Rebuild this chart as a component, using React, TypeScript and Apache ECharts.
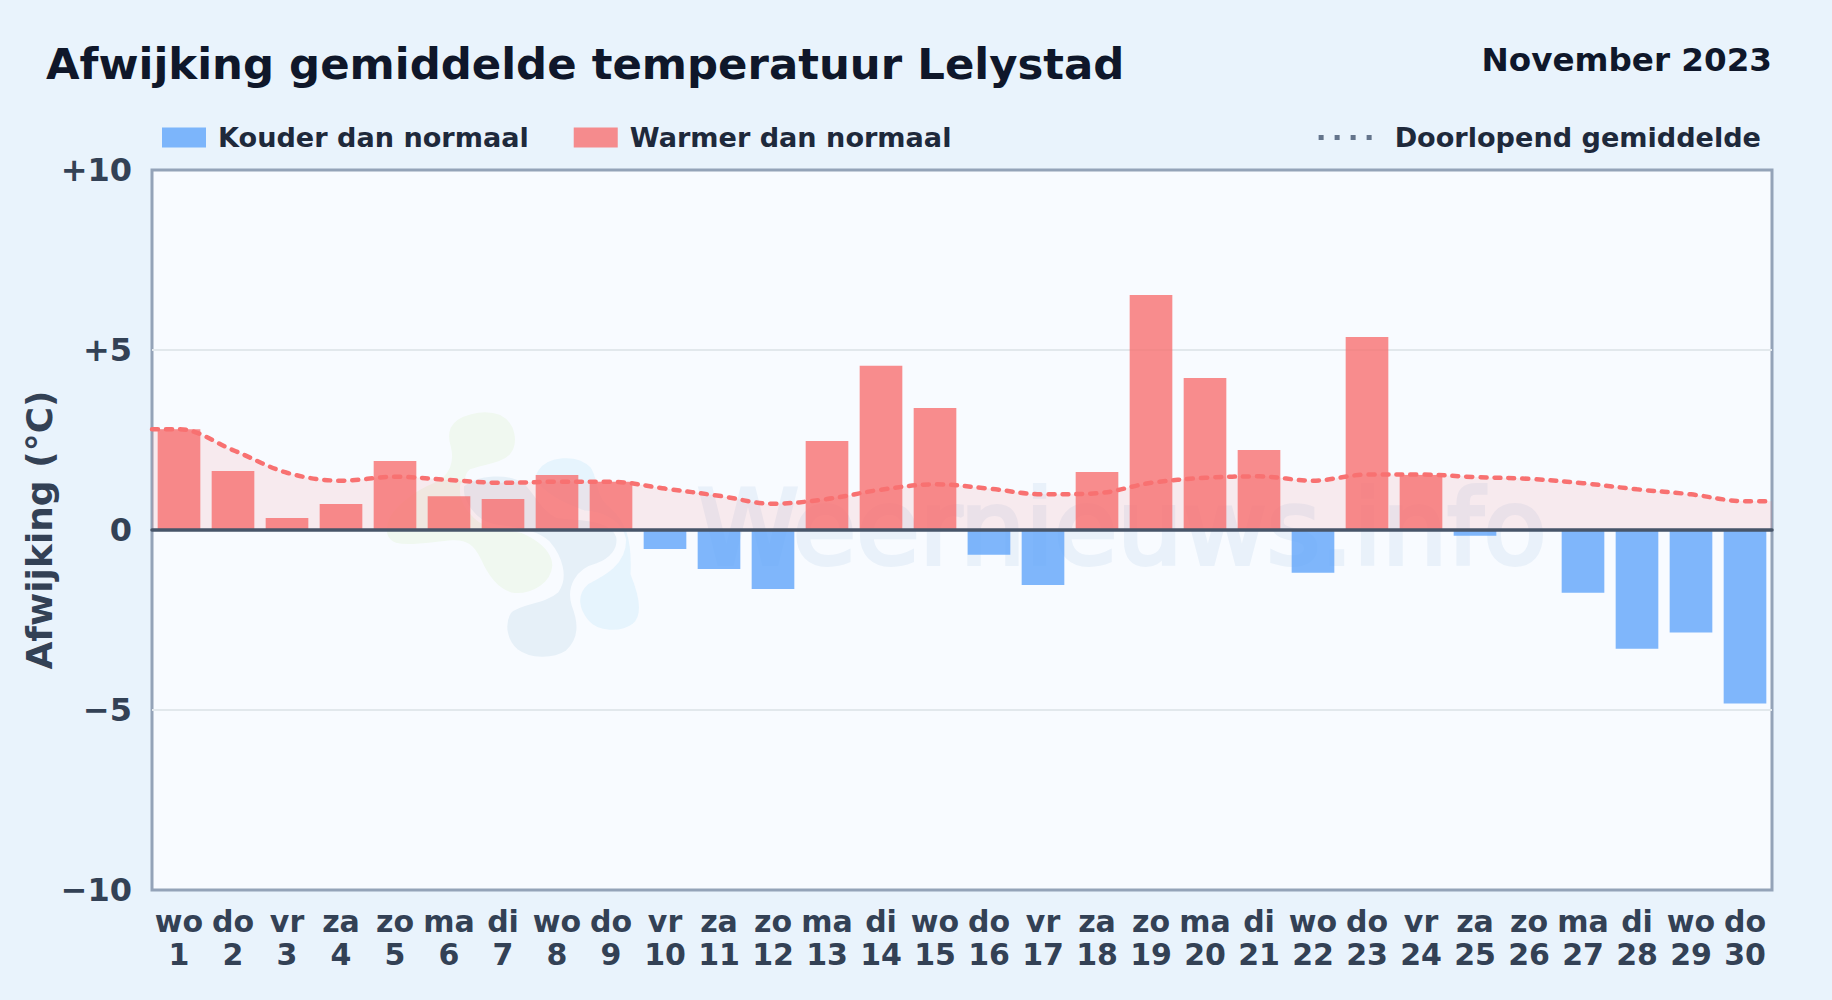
import React, { useEffect, useRef } from "react";
import * as echarts from "echarts";

const weekdays = ["wo","do","vr","za","zo","ma","di","wo","do","vr","za","zo","ma","di","wo","do","vr","za","zo","ma","di","wo","do","vr","za","zo","ma","di","wo","do"];
const days = [1,2,3,4,5,6,7,8,9,10,11,12,13,14,15,16,17,18,19,20,21,22,23,24,25,26,27,28,29,30];
const deviation = [2.8,1.64,0.33,0.72,1.92,0.94,0.86,1.53,1.34,-0.53,-1.08,-1.64,2.47,4.56,3.39,-0.69,-1.53,1.61,6.53,4.22,2.22,-1.19,5.36,1.53,-0.16,0,-1.74,-3.3,-2.85,-4.82];
const runningMean = [2.8,2.22,1.59,1.37,1.48,1.39,1.31,1.34,1.34,1.15,0.95,0.73,0.86,1.12,1.27,1.15,0.99,1.02,1.31,1.45,1.49,1.37,1.54,1.54,1.47,1.42,1.3,1.13,0.99,0.8];

const NAME_COLD = "Kouder dan normaal";
const NAME_WARM = "Warmer dan normaal";
const NAME_MEAN = "Doorlopend gemiddelde";
const FONT = "DejaVu Sans";

echarts.graphic.registerShape("wmGreen", echarts.graphic.extendPath("M240 90 C260 50 340 30 395 50 C445 75 455 140 425 175 C395 205 345 205 305 220 C275 245 300 330 390 370 C470 395 550 430 553 495 C550 550 490 585 435 582 C385 575 350 525 330 480 C310 440 290 425 250 428 C190 432 130 445 85 436 C50 425 40 395 60 350 C85 310 140 270 190 250 C240 230 250 190 240 150 C232 125 232 110 240 90 Z", {}));
echarts.graphic.registerShape("wmGray", echarts.graphic.extendPath("M280 260 C320 225 420 215 470 255 C500 285 520 330 560 350 C620 360 720 350 742 410 C750 450 720 480 680 495 C620 510 595 560 610 610 C630 660 635 710 590 750 C550 775 480 775 440 745 C410 720 395 670 420 630 C450 600 520 605 560 570 C590 530 570 470 535 430 C500 395 430 390 370 380 C320 370 270 310 280 260 Z", {}));
echarts.graphic.registerShape("wmBlue", echarts.graphic.extendPath("M500 215 C530 170 620 160 665 205 C690 240 680 290 720 320 C770 360 790 420 785 520 C810 580 825 640 790 670 C750 700 680 695 650 660 C620 625 610 580 650 545 C700 520 760 490 760 420 C750 370 700 345 640 340 C580 320 540 300 500 260 C490 240 490 230 500 215 Z", {}));

export default function App() {
  const ref = useRef<HTMLDivElement>(null);
  useEffect(() => {
    document.body.style.margin = "0";
    const chart = echarts.init(ref.current!, null, { renderer: "svg" });
    const blob = (type: string, fill: string) => ({
      type, x: 368, y: 396, scaleX: 0.337, scaleY: 0.342, z: 1, silent: true,
      style: { fill, stroke: "#f8fbff", lineWidth: 12 },
    });
    const meanData: number[][] = [
      [0, runningMean[0]],
      ...runningMean.map((v, i) => [i + 0.5, v]),
      [30, runningMean[runningMean.length - 1]],
    ];
    chart.setOption({
      animation: false,
      backgroundColor: "transparent",
      textStyle: { fontFamily: FONT },
      title: [
        { text: "Afwijking gemiddelde temperatuur Lelystad", left: 41, top: 37,
          textStyle: { fontFamily: FONT, fontSize: 43.4, fontWeight: "bold", color: "#0f172a" } },
        { text: "November 2023", right: 55, top: 38,
          textStyle: { fontFamily: FONT, fontSize: 32.6, fontWeight: "bold", color: "#0f172a" } },
      ],
      legend: [
        { left: 157, top: 119, itemWidth: 44, itemHeight: 20, itemGap: 45,
          selectedMode: false,
          data: [{ name: NAME_COLD, icon: "rect" }, { name: NAME_WARM, icon: "rect" }],
          textStyle: { fontFamily: FONT, fontSize: 27.1, fontWeight: "bold", color: "#1e293b", padding: [0, 0, 0, 7] } },
        { right: 66, top: 119, itemWidth: 56, itemHeight: 20,
          selectedMode: false,
          data: [{ name: NAME_MEAN, lineStyle: { color: "#64748b", width: 5, type: [5, 11], cap: "butt" }, itemStyle: { opacity: 0 } }],
          textStyle: { fontFamily: FONT, fontSize: 27.1, fontWeight: "bold", color: "#1e293b", padding: [0, 0, 0, 15] } },
      ],
      grid: { left: 152, right: 60, top: 170, bottom: 110, show: true, backgroundColor: "#f8fbff", borderColor: "#94a3b8", borderWidth: 3 },
      xAxis: [
        { type: "category", data: weekdays.map((d, i) => `${d}\n${days[i]}`),
          axisLine: { onZero: false, show: false }, axisTick: { show: false },
          axisLabel: { interval: 0, margin: 15, fontFamily: FONT, fontSize: 30, fontWeight: "bold", color: "#334155", lineHeight: 33 } },
        { type: "value", min: 0, max: 30, position: "bottom", z: 5,
          axisLine: { show: true, onZero: true, lineStyle: { color: "#475569", width: 3.5 } },
          axisTick: { show: false }, axisLabel: { show: false }, splitLine: { show: false } },
      ],
      yAxis: {
        type: "value", min: -10, max: 10, interval: 5,
        name: "Afwijking (°C)", nameLocation: "middle", nameGap: 95, nameMoveOverlap: false,
        nameTextStyle: { fontFamily: FONT, fontSize: 36, fontWeight: "bold", color: "#334155" },
        axisLine: { show: false }, axisTick: { show: false },
        axisLabel: { margin: 20, fontFamily: FONT, fontSize: 32, fontWeight: "bold", color: "#334155",
          formatter: (v: number) => (v > 0 ? `+${v}` : v < 0 ? `\u2212${Math.abs(v)}` : "0") },
        splitLine: { show: true, showMinLine: false, showMaxLine: false, lineStyle: { color: "#e2e8ec", width: 2 } },
      },
      graphic: [
        blob("wmGreen", "#f0f8f0"),
        blob("wmBlue", "#e6f4fd"),
        blob("wmGray", "#e6f0f8"),
        { type: "text", x: 697, y: 476, z: 1, silent: true,
          style: { text: "Weernieuws.info", fontFamily: FONT, fontSize: 103, fontWeight: "normal", fill: "#e9f1fa", stroke: "#e9f1fa", lineWidth: 4 } },
      ],
      series: [
        { name: NAME_COLD, type: "bar", stack: "dev", barWidth: "79%",
          data: deviation.map((v) => (v < 0 ? v : null)),
          itemStyle: { color: "rgba(96,165,250,0.8)" } },
        { name: NAME_WARM, type: "bar", stack: "dev", barWidth: "79%",
          data: deviation.map((v) => (v > 0 ? v : null)),
          itemStyle: { color: "rgba(248,113,113,0.8)" } },
        { name: NAME_MEAN, type: "line", xAxisIndex: 1, data: meanData, smooth: 0.35,
          symbol: "none", z: 3,
          lineStyle: { color: "#f87171", width: 4.5, type: [6, 8], cap: "round" },
          areaStyle: { color: "rgba(248,113,113,0.17)" } },
      ],
    });
    return () => chart.dispose();
  }, []);
  return (
    <div ref={ref} style={{ position: "absolute", left: 0, top: 0, width: 1832, height: 1000, background: "#e9f3fc" }} />
  );
}
